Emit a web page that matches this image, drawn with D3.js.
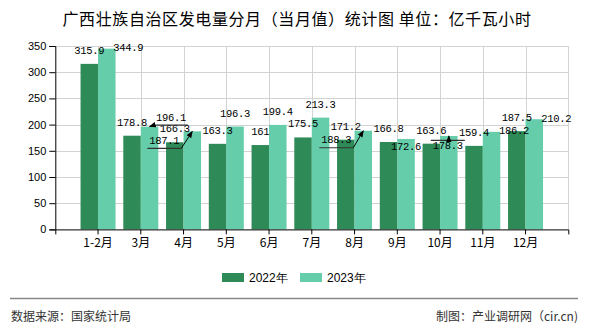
<!DOCTYPE html>
<html>
<head>
<meta charset="utf-8">
<script src="https://cdn.jsdelivr.net/npm/d3@7"></script>
<style>
  html, body { margin: 0; padding: 0; background: #fff; }
  svg { display: block; }
</style>
</head>
<body>
<svg id="chart" width="590" height="330"></svg>
<script>
// ---- data ----
const categories = ["1-2月", "3月", "4月", "5月", "6月", "7月", "8月", "9月", "10月", "11月", "12月"];
const values2022 = [315.9, 178.8, 166.3, 163.3, 161, 175.5, 171.2, 166.8, 163.6, 159.4, 187.5];
const values2023 = [344.9, 196.1, 187.1, 196.3, 199.4, 213.3, 188.3, 172.6, 178.3, 186.2, 210.2];
const seriesNames = ["2022年", "2023年"];
const yTickValues = [0, 50, 100, 150, 200, 250, 300, 350];
const titleText = "广西壮族自治区发电量分月（当月值）统计图 单位：亿千瓦小时";
const sourceText = "数据来源：国家统计局";
const creditText = "制图：产业调研网（cir.cn)";

// label layout adjustments for the 2023 series (label moved to avoid overlap)
const labelShift2023 = [[21.5, 12], [21.5, 4], [-28, 22.5], [0, 0], [0, 0], [0, 0], [-27, 22.5], [0, 21.5], [-1, 23], [22.5, 12.5], [22, 13]];
const leader2023 = [false, true, true, false, false, false, true, false, true, false, false];

// ---- styles ----
const colors = ["#2e8b57", "#66cdaa"];
const plot = { left: 55.3, right: 568.3, top: 46, bottom: 229.4 };
const barW = 17.5;

const svg = d3.select("#chart");

const x = d3.scaleBand().domain(categories).range([plot.left, plot.right]).paddingInner(0).paddingOuter(0.5);
const cx = c => x(c) + x.bandwidth() / 2;
const y = d3.scaleLinear().domain([0, 350]).range([plot.bottom, plot.top]);

// defs: arrow
svg.append("defs").append("marker")
  .attr("id", "arrow").attr("viewBox", "0 0 10 10").attr("refX", 9).attr("refY", 5)
  .attr("markerWidth", 7).attr("markerHeight", 7).attr("orient", "auto")
  .attr("markerUnits", "userSpaceOnUse")
  .append("path").attr("d", "M0,1 L10,5 L0,9 Z").attr("fill", "#000");

// title
svg.append("text").attr("x", 297).attr("y", 25).attr("text-anchor", "middle")
  .attr("font-family", "'Noto Sans CJK SC', sans-serif").attr("font-size", 16).attr("fill", "#000")
  .attr("letter-spacing", 0.6)
  .text(titleText);

// grid
const grid = svg.append("g");
grid.selectAll("line.h").data(yTickValues.filter(v => v > 0)).join("line")
  .attr("x1", plot.left).attr("x2", plot.right)
  .attr("y1", d => Math.round(y(d)) + 0.5).attr("y2", d => Math.round(y(d)) + 0.5)
  .attr("stroke", "#d3d3d3").attr("stroke-width", 1);
const vPos = categories.map(cx).concat([plot.right]);
grid.selectAll("line.v").data(vPos).join("line")
  .attr("x1", d => Math.round(d) + 0.5).attr("x2", d => Math.round(d) + 0.5)
  .attr("y1", plot.top).attr("y2", plot.bottom)
  .attr("stroke", "#d3d3d3").attr("stroke-width", 1);

// bars
const series = [values2022, values2023];
series.forEach((vals, si) => {
  svg.append("g").selectAll("rect").data(vals).join("rect")
    .attr("x", (d, i) => cx(categories[i]) + (si === 0 ? -barW : 0))
    .attr("width", barW)
    .attr("y", d => y(d))
    .attr("height", d => y(0) - y(d))
    .attr("fill", colors[si]);
});

// axes
const yAxis = d3.axisLeft(y).tickValues(yTickValues).tickSize(6).tickPadding(3);
const gy = svg.append("g").attr("transform", `translate(${plot.left},0)`).call(yAxis);
gy.select(".domain").attr("stroke", "#000");
gy.selectAll(".tick line").attr("stroke", "#000");
gy.selectAll(".tick text").attr("font-family", "'Liberation Sans', Arial, sans-serif").attr("font-size", 11).attr("fill", "#000");

const xAxis = d3.axisBottom(x).tickSize(5).tickPadding(4).tickSizeOuter(5);
const gx = svg.append("g").attr("transform", `translate(0,${plot.bottom})`).call(xAxis);
gx.select(".domain").attr("stroke", "#000");
gx.selectAll(".tick line").attr("stroke", "#000");
gx.selectAll(".tick text").attr("font-family", "'Noto Sans CJK SC', sans-serif").attr("font-size", 12).attr("fill", "#000");

// labels
const labelFont = "'Liberation Mono', 'DejaVu Sans Mono', monospace";
const lg = svg.append("g");
series.forEach((vals, si) => {
  vals.forEach((v, i) => {
    const ax = cx(categories[i]) + (si === 0 ? -barW / 2 : barW / 2);
    const ay = y(v);
    const sh = si === 1 ? labelShift2023[i] : [0, 0];
    const tx = ax + sh[0], ty = ay - 10 + sh[1];
    const t = lg.append("text").attr("x", tx).attr("y", ty).attr("text-anchor", "middle")
      .attr("font-family", labelFont).attr("font-size", 10.5).attr("letter-spacing", -0.3)
      .attr("fill", "#000").text(String(v));
    if (si === 1 && leader2023[i]) {
      const w = t.node().getComputedTextLength();
      const x0 = tx - w / 2 - 2, x1 = tx + w / 2 + 2;
      const top = ty - 8.5, bottom = ty + 4.5;
      const useTop = ay < top && ax >= x0 && ax <= x1;
      const ey = useTop ? top : bottom;
      const nearX = Math.max(x0, Math.min(x1, ax));
      lg.append("line").attr("x1", x0).attr("x2", x1).attr("y1", ey).attr("y2", ey)
        .attr("stroke", "#333").attr("stroke-width", 1.2);
      lg.append("line").attr("x1", nearX).attr("y1", ey).attr("x2", ax).attr("y2", ay)
        .attr("stroke", "#000").attr("stroke-width", 1).attr("marker-end", "url(#arrow)");
    }
  });
});

// legend
const legend = [{ x: 222, tx: 249 }, { x: 300, tx: 327 }];
legend.forEach((l, i) => {
  svg.append("rect").attr("x", l.x).attr("y", 273).attr("width", 22).attr("height", 9).attr("fill", colors[i]);
  svg.append("text").attr("x", l.tx).attr("y", 281.5)
    .attr("font-family", "'Liberation Sans', Arial, sans-serif").attr("font-size", 12).attr("fill", "#000")
    .text(seriesNames[i]);
});

// footer
svg.append("line").attr("x1", 10).attr("x2", 578).attr("y1", 298.5).attr("y2", 298.5)
  .attr("stroke", "#888").attr("stroke-width", 1.5);
svg.append("text").attr("x", 11).attr("y", 321)
  .attr("font-family", "'Noto Sans CJK SC', sans-serif").attr("font-size", 12).attr("fill", "#333")
  .text(sourceText);
svg.append("text").attr("x", 578).attr("y", 321).attr("text-anchor", "end")
  .attr("font-family", "'Noto Sans CJK SC', sans-serif").attr("font-size", 12).attr("fill", "#333")
  .text(creditText);
</script>
</body>
</html>
